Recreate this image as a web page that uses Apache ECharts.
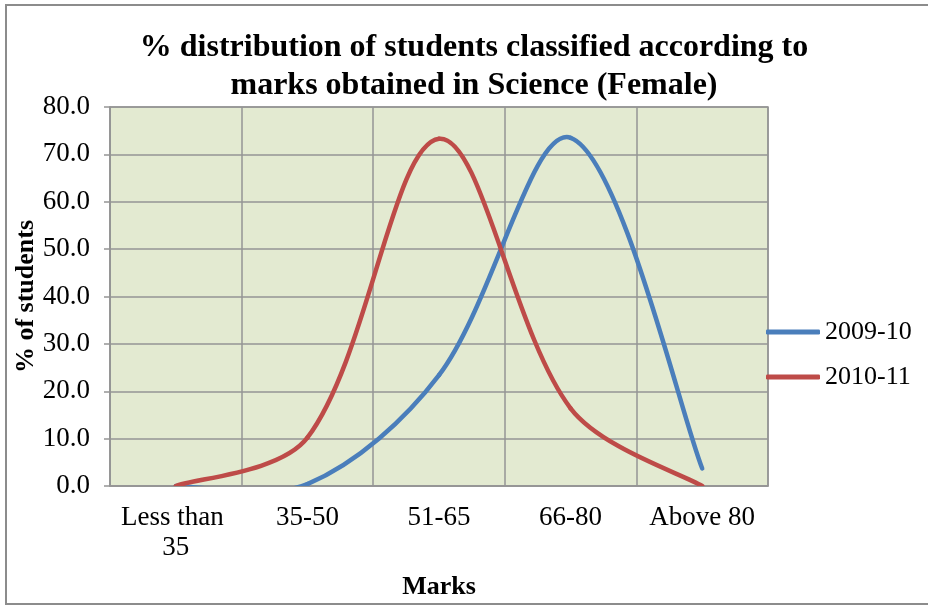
<!DOCTYPE html>
<html>
<head>
<meta charset="utf-8">
<script src="https://cdn.jsdelivr.net/npm/echarts@6/dist/echarts.min.js"></script>
<style>
  html, body { margin: 0; padding: 0; background: #ffffff; }
  #chart { width: 928px; height: 605px; }
</style>
</head>
<body>
<div id="chart"></div>
<script>
// Mark bands on the category axis
var categories = ['Less than 35', '35-50', '51-65', '66-80', 'Above 80'];

// Share of female students (%) in each band of Science marks
var series2009 = [0.0, 0.4, 23.4, 73.5, 3.7];
var series2010 = [0.0, 10.2, 73.3, 16.4, 0.0];

// Value axis ticks
var yMin = 0, yMax = 80, yStep = 10;

var FONT = '"Liberation Serif", "Times New Roman", serif';
var BLUE = '#4a7ebb';
var RED = '#be4b48';
var GRID_LINE = '#959595';
var LINE_WIDTH = 4.5;

// Spreadsheet-style smoothed line: cubic Bezier segments through every point,
// tangents from the neighbouring points, weighted by the adjacent segment lengths
// (no clamping, so the curve may overshoot and gets clipped by the grid).
function smoothCurve(count, color) {
  return function (params, api) {
    if (params.dataIndexInside !== 0) return null;
    var pts = [];
    for (var i = 0; i < count; i++) {
      pts.push(api.coord([api.value(0, i), api.value(1, i)]));
    }
    var k = 1 / 3;
    function dist(a, b) { return Math.sqrt((a[0] - b[0]) * (a[0] - b[0]) + (a[1] - b[1]) * (a[1] - b[1])); }
    // outgoing (after) and incoming (before) control points per point
    var after = [], before = [];
    for (var j = 0; j < count; j++) {
      var p = pts[j];
      if (j === 0) {
        var n = pts[1];
        after[j] = [p[0] + (n[0] - p[0]) / 6, p[1] + (n[1] - p[1]) / 6];
        before[j] = p;
      } else if (j === count - 1) {
        var q = pts[j - 1];
        before[j] = [p[0] - (p[0] - q[0]) / 6, p[1] - (p[1] - q[1]) / 6];
        after[j] = p;
      } else {
        var prev = pts[j - 1], next = pts[j + 1];
        var vx = next[0] - prev[0], vy = next[1] - prev[1];
        var d0 = dist(prev, p), d1 = dist(p, next);
        var r1 = d1 / (d0 + d1), r0 = d0 / (d0 + d1);
        after[j] = [p[0] + vx * k * r1, p[1] + vy * k * r1];
        before[j] = [p[0] - vx * k * r0, p[1] - vy * k * r0];
      }
    }
    var children = [];
    for (var s = 0; s < count - 1; s++) {
      children.push({
        type: 'bezierCurve',
        shape: {
          x1: pts[s][0], y1: pts[s][1],
          cpx1: after[s][0], cpy1: after[s][1],
          cpx2: before[s + 1][0], cpy2: before[s + 1][1],
          x2: pts[s + 1][0], y2: pts[s + 1][1]
        },
        style: { fill: null, stroke: color, lineWidth: LINE_WIDTH, lineCap: 'round' }
      });
    }
    return { type: 'group', children: children };
  };
}

function toPairs(values) {
  return values.map(function (v, i) { return [i, v]; });
}

var chart = echarts.init(document.getElementById('chart'), null, { renderer: 'canvas' });

chart.setOption({
  backgroundColor: '#ffffff',
  animation: false,
  title: {
    text: '% distribution of students classified according to\nmarks obtained in Science (Female)',
    left: 469,
    top: 24,
    textAlign: 'center',
    textStyle: {
      fontFamily: FONT,
      fontWeight: 'bold',
      fontSize: 32,
      lineHeight: 38,
      color: '#000000'
    }
  },
  graphic: [{
    type: 'rect',
    silent: true,
    shape: { x: 6, y: 5, width: 940, height: 599 },
    style: { fill: null, stroke: '#8c8c8c', lineWidth: 2 }
  }],
  legend: {
    orient: 'vertical',
    left: 766,
    top: 319,
    padding: 0,
    itemWidth: 54,
    itemHeight: 5,
    itemGap: 19,
    icon: 'roundRect',
    textStyle: {
      fontFamily: FONT,
      fontSize: 26,
      lineHeight: 26,
      color: '#000000'
    },
    data: ['2009-10', '2010-11']
  },
  grid: {
    left: 110,
    right: 160,
    top: 107,
    bottom: 119,
    show: true,
    backgroundColor: '#e3ead1',
    borderColor: GRID_LINE,
    borderWidth: 1.5
  },
  xAxis: {
    type: 'category',
    data: categories,
    boundaryGap: true,
    name: 'Marks',
    nameLocation: 'middle',
    nameGap: 88,
    nameTextStyle: {
      fontFamily: FONT,
      fontWeight: 'bold',
      fontSize: 26,
      color: '#000000'
    },
    axisLine: { lineStyle: { color: GRID_LINE, width: 1.5 } },
    axisTick: { show: false },
    splitLine: { show: true, lineStyle: { color: GRID_LINE, width: 1.5 } },
    axisLabel: {
      fontFamily: FONT,
      fontSize: 27,
      lineHeight: 30,
      color: '#000000',
      margin: 17,
      interval: 0,
      width: 120,
      overflow: 'break'
    }
  },
  yAxis: {
    type: 'value',
    min: yMin,
    max: yMax,
    interval: yStep,
    name: '% of students',
    nameLocation: 'middle',
    nameGap: 71,
    nameRotate: 90,
    nameMoveOverlap: false,
    nameTextStyle: {
      fontFamily: FONT,
      fontWeight: 'bold',
      fontSize: 26,
      color: '#000000'
    },
    axisLine: { show: true, lineStyle: { color: GRID_LINE, width: 1.5 } },
    axisTick: { show: true, length: 6, lineStyle: { color: GRID_LINE, width: 1.5 } },
    splitLine: { show: true, lineStyle: { color: GRID_LINE, width: 1.5 } },
    axisLabel: {
      fontFamily: FONT,
      fontSize: 27,
      color: '#000000',
      margin: 20,
      formatter: function (v) { return v.toFixed(1); }
    }
  },
  series: [
    {
      name: '2009-10',
      type: 'custom',
      clip: true,
      data: toPairs(series2009),
      encode: { x: 0, y: 1 },
      itemStyle: { color: BLUE },
      renderItem: smoothCurve(series2009.length, BLUE)
    },
    {
      name: '2010-11',
      type: 'custom',
      clip: true,
      data: toPairs(series2010),
      encode: { x: 0, y: 1 },
      itemStyle: { color: RED },
      renderItem: smoothCurve(series2010.length, RED)
    }
  ]
});
</script>
</body>
</html>
